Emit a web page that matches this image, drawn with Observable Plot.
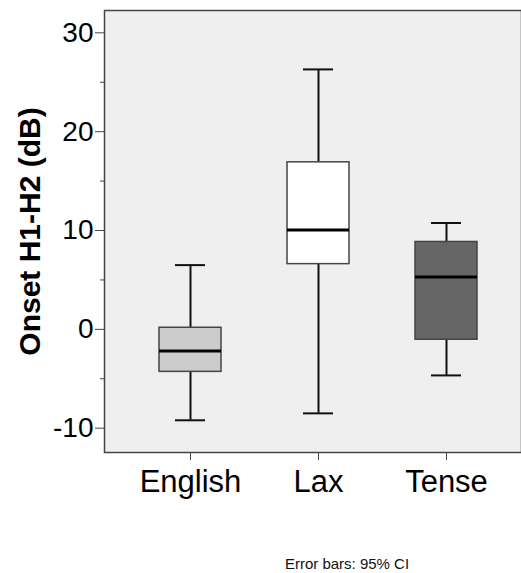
<!DOCTYPE html>
<html>
<head>
<meta charset="utf-8">
<script src="https://cdn.jsdelivr.net/npm/d3@7"></script>
<script src="https://cdn.jsdelivr.net/npm/@observablehq/plot@0.6"></script>
<style>
  html, body { margin: 0; padding: 0; background: white; overflow: hidden; }
  #wrap { position: relative; width: 521px; height: 573px; overflow: hidden; font-family: "Liberation Sans", Arial, sans-serif; }
  #caption { position: absolute; left: 0; top: 555px; width: 694px; text-align: center; font-size: 15px; line-height: 18px; color: #111; }
</style>
</head>
<body>
<div id="wrap"><div id="chart"></div><div id="caption">Error bars: 95% CI</div></div>
<script>
const groups = ["English", "Lax", "Tense"];
const whiskerLow = [-9.2, -8.5, -4.66];
const q1 = [-4.3, 6.6, -1.05];
const medians = [-2.2, 10.05, 5.3];
const q3 = [0.16, 16.9, 8.84];
const whiskerHigh = [6.5, 26.3, 10.76];
const fills = ["#cccccc", "#ffffff", "#666666"];
const majorTicks = [-10, 0, 10, 20, 30];
const minorTicks = [-5, 5, 15, 25];
const yLabel = "Onset H1-H2 (dB)";

const data = groups.map((g, i) => ({
  group: g, lo: whiskerLow[i], q1: q1[i], med: medians[i], q3: q3[i], hi: whiskerHigh[i], fill: fills[i]
}));

const chart = Plot.plot({
  width: 521,
  height: 510,
  marginTop: 10,
  marginBottom: 58,
  marginLeft: 104,
  marginRight: 0,
  style: { fontFamily: "Liberation Sans, Arial, sans-serif", background: "white" },
  x: { domain: groups, range: [104, 532], paddingInner: 0.518, paddingOuter: 0.422, label: null },
  y: { domain: [-12.46, 32.26], label: null },
  marks: [
    Plot.frame({ fill: "#efefef", stroke: "#444", strokeWidth: 1.5 }),
    Plot.ruleX(data, { x: "group", y1: "lo", y2: "hi", stroke: "#111", strokeWidth: 2 }),
    Plot.tickY(data, { x: "group", y: "lo", stroke: "#111", strokeWidth: 2, insetLeft: 16, insetRight: 16 }),
    Plot.tickY(data, { x: "group", y: "hi", stroke: "#111", strokeWidth: 2, insetLeft: 16, insetRight: 16 }),
    Plot.barY(data, { x: "group", y1: "q1", y2: "q3", fill: "fill", stroke: "#444", strokeWidth: 1.5 }),
    Plot.tickY(data, { x: "group", y: "med", stroke: "#000", strokeWidth: 3 }),
    Plot.axisY({ ticks: majorTicks, tickSize: 9, tickPadding: 2, fontSize: 28, stroke: "#444", color: "#000", label: null, tickFormat: d => d < 0 ? "-" + Math.abs(d) : String(d) }),
    Plot.axisY({ ticks: minorTicks, tickSize: 4, text: null, stroke: "#444", label: null }),
    Plot.axisX({ tickSize: 8, tickPadding: 9, fontSize: 31, stroke: "#444", color: "#000", label: null }),
    Plot.text([yLabel], { frameAnchor: "left", text: d => d, rotate: -90, dx: -74, textAnchor: "middle", fontSize: 30, fontWeight: "bold", fill: "#000" })
  ]
});
document.getElementById("chart").appendChild(chart);
</script>
</body>
</html>
